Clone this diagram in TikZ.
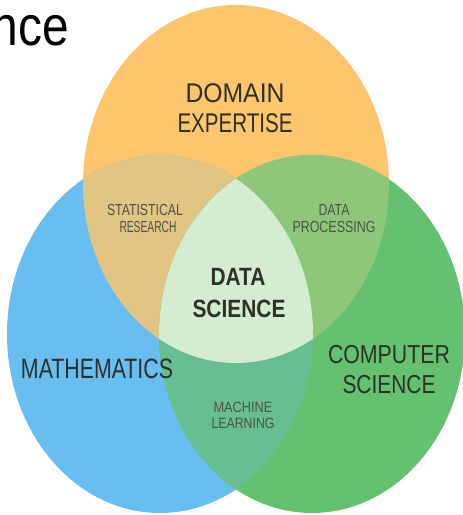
\documentclass[tikz,border=0pt]{standalone}
\usepackage{fontspec}
\setmainfont{Liberation Sans}
\usepackage{graphicx}

\definecolor{domaincol}{HTML}{FDC66C}
\definecolor{mathcol}{HTML}{68BDF1}
\definecolor{compcol}{HTML}{64C170}
\definecolor{statcol}{HTML}{E2C582}
\definecolor{proccol}{HTML}{8DC779}
\definecolor{learncol}{HTML}{67BE90}
\definecolor{corecol}{HTML}{D4EDD0}
\definecolor{labelcol}{HTML}{2E3128}
\definecolor{minorcol}{HTML}{4E5248}

% one line of text, stretched horizontally to a given width
\newcommand{\fitline}[2]{\resizebox{#1}{\height}{#2}}

\tikzset{
  bigset/.style={anchor=base, inner sep=0pt, text=labelcol,
                 font=\fontsize{27}{30}\selectfont},
  smallset/.style={anchor=base, inner sep=0pt, text=minorcol,
                   font=\fontsize{16}{18}\selectfont},
  coreset/.style={anchor=base, inner sep=0pt, text=labelcol,
                  font=\fontsize{25}{28}\selectfont\bfseries},
}

\begin{document}
\begin{tikzpicture}[x=1pt, y=-1pt]
  \useasboundingbox (0,0) rectangle (463,515);
  \fill[white] (0,0) rectangle (463,515);
  \clip (0,0) rectangle (463,515);

  % title, running off the left edge
  \node[anchor=base east, inner sep=0pt, text=black,
        font=\fontsize{56}{60}\selectfont] (title) at (69,45)
        {\scalebox{0.855}[1]{nce}};

  % the three sets
  \def\domainset{(236,184) ellipse [x radius=153pt, y radius=179pt]}
  \def\mathset{(160,334) ellipse [x radius=153pt, y radius=179pt]}
  \def\compset{(312,334) ellipse [x radius=153pt, y radius=179pt]}

  \fill[domaincol] \domainset;
  \fill[mathcol] \mathset;
  \fill[compcol] \compset;

  % pairwise overlaps
  \begin{scope}
    \clip \domainset;
    \fill[statcol] \mathset;
    \fill[proccol] \compset;
  \end{scope}
  \begin{scope}
    \clip \mathset;
    \fill[learncol] \compset;
  \end{scope}
  % common core
  \begin{scope}
    \clip \domainset;
    \clip \mathset;
    \fill[corecol] \compset;
  \end{scope}

  % set labels
  \node[bigset] (dom1) at (235,102) {\fitline{99pt}{DOMAIN}};
  \node[bigset] (dom2) at (235,132) {\fitline{115pt}{EXPERTISE}};
  \node[bigset, font=\fontsize{28}{30}\selectfont] (math) at (97,378)
       {\fitline{152pt}{MATHEMATICS}};
  \node[bigset, font=\fontsize{26}{30}\selectfont] (comp1) at (389,363)
       {\fitline{122pt}{COMPUTER}};
  \node[bigset, font=\fontsize{26}{30}\selectfont] (comp2) at (389,393)
       {\fitline{93pt}{SCIENCE}};

  % overlap labels
  \node[smallset] (stat1) at (145,215) {\fitline{76pt}{STATISTICAL}};
  \node[smallset] (stat2) at (148,232) {\fitline{57pt}{RESEARCH}};
  \node[smallset] (proc1) at (334,215) {\fitline{31pt}{DATA}};
  \node[smallset] (proc2) at (334,232) {\fitline{83pt}{PROCESSING}};
  \node[smallset, font=\fontsize{15}{17}\selectfont] (learn1) at (243,412)
       {\fitline{59pt}{MACHINE}};
  \node[smallset, font=\fontsize{15}{17}\selectfont] (learn2) at (243,428)
       {\fitline{63pt}{LEARNING}};

  % core label
  \node[coreset] (core1) at (238,285) {\fitline{55pt}{DATA}};
  \node[coreset] (core2) at (239,317) {\fitline{93pt}{SCIENCE}};
\end{tikzpicture}
\end{document}
